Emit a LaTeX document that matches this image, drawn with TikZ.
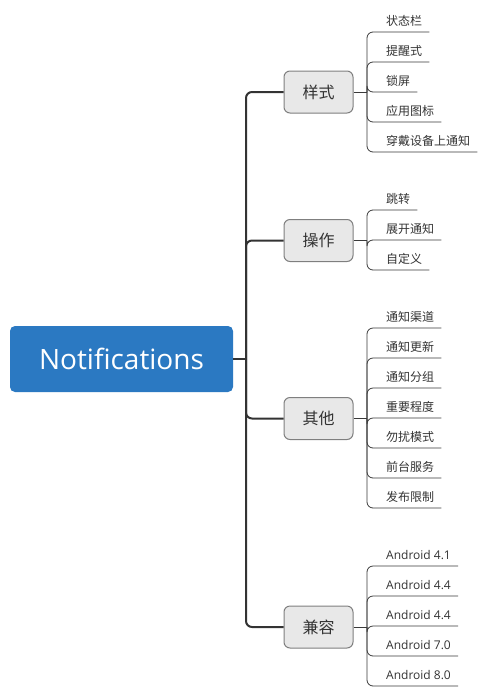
\documentclass[tikz,border=0pt]{standalone}
\usepackage{fontspec}
\setmainfont{Open Sans}
\newfontfamily\cjk{Noto Sans CJK SC}
\usetikzlibrary{calc}
\definecolor{rootblue}{HTML}{2B79C2}
\definecolor{branchfill}{HTML}{E8E8E8}
\definecolor{branchdraw}{HTML}{7F7F7F}
\definecolor{trunkcol}{HTML}{333333}
\definecolor{leafcol}{HTML}{3A3A3A}
\tikzset{
  rootnode/.style={draw=none, fill=rootblue, rounded corners=5pt, minimum width=223pt, minimum height=66pt, text=white, font=\fontsize{28}{30}\selectfont, inner sep=0pt},
  branchnode/.style={draw=branchdraw, line width=1pt, fill=branchfill, rounded corners=6pt, minimum width=69pt, minimum height=42pt, font=\cjk\fontsize{16}{18}\selectfont, text=trunkcol, inner sep=0pt},
  leafnode/.style={anchor=west, inner sep=0pt, font=\cjk\fontsize{12}{14}\selectfont, text=trunkcol},
  andnode/.style={anchor=west, inner sep=0pt, font=\fontsize{12}{14}\selectfont, text=trunkcol},
  trunk/.style={draw=trunkcol, line width=2pt},
  trunkr/.style={trunk, rounded corners=6pt},
  leafline/.style={draw=leafcol, line width=0.8pt},
  leaflr/.style={leafline, rounded corners=6pt},
}
\begin{document}
\begin{tikzpicture}[x=1pt, y=-1pt]
\useasboundingbox (0,0) rectangle (487,697);
\node[rootnode] (root) at (121.5,359) {Notifications};
\node[branchnode] (b1) at (318.5,92) {样式};
\node[branchnode] (b2) at (318.5,240.5) {操作};
\node[branchnode] (b3) at (318.5,418.5) {其他};
\node[branchnode] (b4) at (318.5,627) {兼容};
\coordinate (tj) at (246,359);
\draw[trunk] (root.east) -- (tj);
\foreach \b in {b1,b2,b3,b4} { \draw[trunkr] (tj) |- (\b.west); }
% leaves of b1
\node[leafnode] (l11) at (386,21) {状态栏};
\node[leafnode] (l12) at (386,51) {提醒式};
\node[leafnode] (l13) at (386,81) {锁屏};
\node[leafnode] (l14) at (386,111) {应用图标};
\node[leafnode] (l15) at (386,141) {穿戴设备上通知};
% leaves of b2
\node[leafnode] (l21) at (386,199) {跳转};
\node[leafnode] (l22) at (386,229) {展开通知};
\node[leafnode] (l23) at (386,259) {自定义};
% leaves of b3
\node[leafnode] (l31) at (386,317) {通知渠道};
\node[leafnode] (l32) at (386,347) {通知更新};
\node[leafnode] (l33) at (386,377) {通知分组};
\node[leafnode] (l34) at (386,407) {重要程度};
\node[leafnode] (l35) at (386,437) {勿扰模式};
\node[leafnode] (l36) at (386,467) {前台服务};
\node[leafnode] (l37) at (386,497) {发布限制};
% leaves of b4
\node[andnode] (l41) at (386,555) {Android 4.1};
\node[andnode] (l42) at (386,585) {Android 4.4};
\node[andnode] (l43) at (386,615) {Android 4.4};
\node[andnode] (l44) at (386,645) {Android 7.0};
\node[andnode] (l45) at (386,675) {Android 8.0};
% connectors
\coordinate (j1) at (367,92);
\coordinate (j2) at (367,240.5);
\coordinate (j3) at (367,418.5);
\coordinate (j4) at (367,627);
\draw[leafline] (b1.east) -- (j1);
\draw[leafline] (b2.east) -- (j2);
\draw[leafline] (b3.east) -- (j3);
\draw[leafline] (b4.east) -- (j4);
\foreach \l in {l11,l12,l13,l14,l15} { \draw[leaflr] (j1) |- ($(\l.east)+(7,11)$); }
\foreach \l in {l21,l22,l23} { \draw[leaflr] (j2) |- ($(\l.east)+(7,11)$); }
\foreach \l in {l31,l32,l33,l34,l35,l36,l37} { \draw[leaflr] (j3) |- ($(\l.east)+(7,11)$); }
\foreach \l in {l41,l42,l43,l44,l45} { \draw[leaflr] (j4) |- ($(\l.east)+(7,11)$); }
\end{tikzpicture}
\end{document}
